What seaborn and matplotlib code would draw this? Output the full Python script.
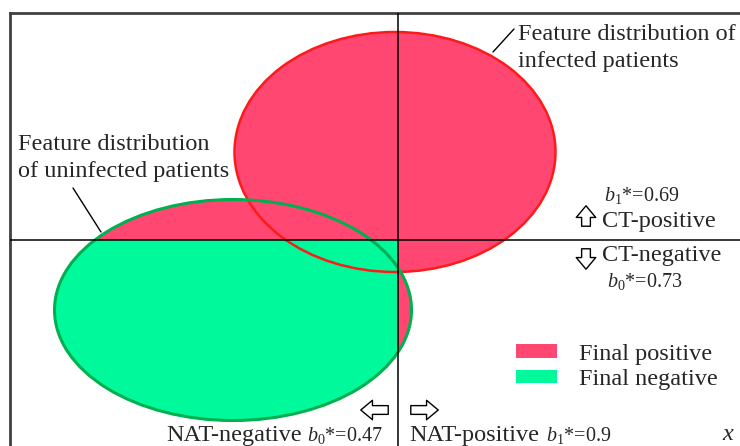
import matplotlib
matplotlib.use("Agg")
import matplotlib.pyplot as plt
import seaborn as sns
from matplotlib.patches import Ellipse, Rectangle, Patch

# --- data ---
groups = ["infected", "uninfected"]
center_x = [-0.03, -1.65]
center_y = [0.88, -0.70]
ell_width = [3.21, 3.57]
ell_height = [2.40, 2.21]
nat_cut = 0.0   # NAT threshold (vertical line)
ct_cut = 0.0    # CT threshold (horizontal line)
ct_b1, ct_b0 = "0.69", "0.73"
nat_b0, nat_b1 = "0.47", "0.9"
legend_labels = ["Final positive", "Final negative"]

# --- style ---
pink = "#ff4772"
green = "#00f99a"
edge_colors = ["#ff1a1a", "#00b050"]
edge_widths = [1.8, 2.2]

sns.set_theme(style="white")
plt.rcParams["font.family"] = ["Liberation Serif", "DejaVu Serif"]
plt.rcParams["mathtext.fontset"] = "custom"
plt.rcParams["mathtext.rm"] = "Liberation Serif"
plt.rcParams["mathtext.it"] = "Liberation Serif:italic"

fig = plt.figure(figsize=(7.4, 4.46), dpi=100)
ax = fig.add_axes([10 / 740, 0, 730 / 740, 433 / 446])
xmin, xmax, ymin, ymax = -3.88, 3.42, -2.06, 2.27
ax.set_xlim(xmin, xmax)
ax.set_ylim(ymin, ymax)
ax.set_xticks([])
ax.set_yticks([])
for s in ["right", "bottom"]:
    ax.spines[s].set_visible(False)
for s in ["left", "top"]:
    ax.spines[s].set_color("#404040")
    ax.spines[s].set_linewidth(2)


def px(x, y):
    # helper for annotation placement (pixel -> data)
    return ((x - 398) / 100, (240 - y) / 100)


# final positive: everything inside either distribution
for cx, cy, w, h in zip(center_x, center_y, ell_width, ell_height):
    ax.add_patch(Ellipse((cx, cy), w, h, facecolor=pink, edgecolor="none", zorder=1))

# final negative: both tests negative (lower-left quadrant)
neg_box = Rectangle((xmin, ymin), nat_cut - xmin, ct_cut - ymin, transform=ax.transData)
for cx, cy, w, h in zip(center_x, center_y, ell_width, ell_height):
    e = Ellipse((cx, cy), w, h, facecolor=green, edgecolor="none", zorder=2)
    ax.add_patch(e)
    e.set_clip_path(neg_box)

for cx, cy, w, h, ec, lw in zip(center_x, center_y, ell_width, ell_height, edge_colors, edge_widths):
    ax.add_patch(Ellipse((cx, cy), w, h, fill=False, edgecolor=ec, linewidth=lw, zorder=3))

ax.axvline(nat_cut, color="black", lw=1.1, zorder=4)
ax.axhline(ct_cut, color="black", lw=1.1, zorder=4)

fs = 17.5
sfs = 14.5
# distribution labels
ax.text(*px(518, 35), "Feature distribution of", fontsize=fs, va="center", ha="left")
ax.text(*px(518, 62), "infected patients", fontsize=fs, va="center", ha="left")
ax.plot(*zip(px(493, 52), px(514, 29)), color="black", lw=1)
ax.text(*px(18, 145), "Feature distribution", fontsize=fs, va="center", ha="left")
ax.text(*px(18, 171), "of uninfected patients", fontsize=fs, va="center", ha="left")
ax.plot(*zip(px(73, 188), px(101, 232)), color="black", lw=1)

# CT labels
ax.text(*px(604, 196), "$b_1$*=" + ct_b1, fontsize=sfs, va="center", ha="left")
ax.text(*px(602, 222), "CT-positive", fontsize=fs, va="center", ha="left")
ax.text(*px(602, 256), "CT-negative", fontsize=fs, va="center", ha="left")
ax.text(*px(607, 282), "$b_0$*=" + ct_b0, fontsize=sfs, va="center", ha="left")

# NAT labels
ax.text(*px(166, 435), "NAT-negative", fontsize=fs, va="center", ha="left")
ax.text(*px(307, 436), "$b_0$*=" + nat_b0, fontsize=sfs, va="center", ha="left")
ax.text(*px(409, 435), "NAT-positive", fontsize=fs, va="center", ha="left")
ax.text(*px(546, 436), "$b_1$*=" + nat_b1, fontsize=sfs, va="center", ha="left")
ax.text(*px(722, 435), "x", fontsize=fs, style="italic", va="center", ha="left")

arrow_kw = dict(arrowstyle="simple,head_length=0.6,head_width=1.0,tail_width=0.45",
                fc="white", ec="black", lw=1, mutation_scale=14)
ax.annotate("", xy=px(586, 203), xytext=px(586, 229), arrowprops=arrow_kw)
ax.annotate("", xy=px(586, 272), xytext=px(586, 246), arrowprops=arrow_kw)
ax.annotate("", xy=px(358, 410), xytext=px(391, 410), arrowprops=arrow_kw)
ax.annotate("", xy=px(441, 410), xytext=px(408, 410), arrowprops=arrow_kw)

handles = [Patch(facecolor=pink, edgecolor="none"), Patch(facecolor=green, edgecolor="none")]
ax.legend(handles, legend_labels, loc="upper left", bbox_to_anchor=((499 - 10) / 730, 1 - (327 - 13) / 433),
          frameon=False, fontsize=fs, handlelength=1.7, handleheight=0.5,
          handletextpad=0.9, labelspacing=0.17, borderpad=0.2)

fig.savefig("out.png", dpi=100)
